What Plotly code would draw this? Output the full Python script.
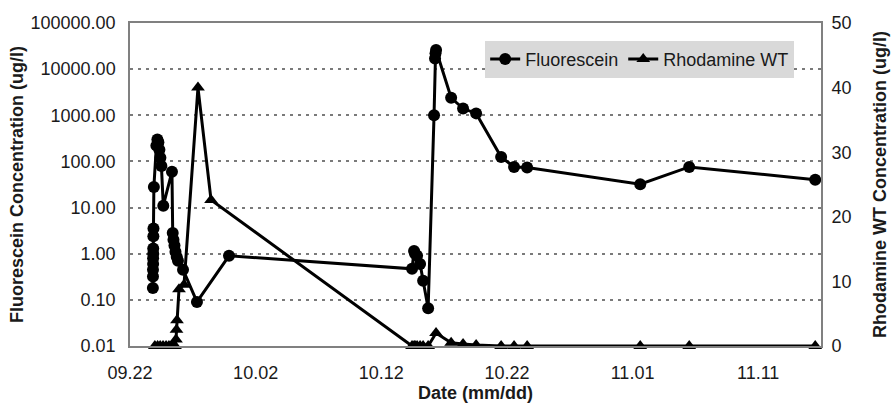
import pandas as pd
import plotly.graph_objects as go

# ---- data (days after 09.22) ----
fluorescein_days = [1.82, 1.83, 1.83, 1.84, 1.84, 1.85, 1.85, 1.86, 1.87, 1.90,
                    2.10, 2.18, 2.26, 2.34, 2.42, 2.50, 2.65,
                    3.34, 3.40, 3.46, 3.54, 3.62, 3.72, 3.82, 4.22, 5.33,
                    7.88,
                    22.45, 22.61, 22.69, 22.85, 23.09, 23.33, 23.73,
                    24.20, 24.28, 24.32, 24.36,
                    25.56, 26.51, 27.55, 29.54, 30.57, 31.61, 40.61, 44.51, 54.54]
fluorescein_vals = [0.18, 0.32, 0.45, 0.6, 0.8, 1.0, 1.3, 2.4, 3.5, 28,
                    220, 300, 260, 180, 120, 80, 11,
                    60, 2.8, 2.0, 1.5, 1.1, 0.85, 0.7, 0.45, 0.09,
                    0.9,
                    0.47, 1.15, 1.0, 0.9, 0.6, 0.26, 0.066,
                    1000, 17000, 22000, 26000,
                    2400, 1400, 1100, 125, 76, 74, 32, 76, 40]

rhodamine_days = [1.98, 2.2, 2.4, 2.63, 2.87, 3.1, 3.34, 3.58,
                  3.66, 3.70, 3.74, 3.90, 4.30, 5.41, 6.45,
                  22.45, 22.61, 22.69, 22.85, 23.09, 23.33, 23.73,
                  24.36, 25.56, 26.51, 27.55, 29.54, 30.57, 31.61, 40.61, 44.51, 54.54]
rhodamine_vals = [0, 0, 0, 0, 0, 0, 0, 0,
                  1.0, 2.5, 4.0, 8.8, 9.5, 40, 22.6,
                  0, 0, 0, 0, 0, 0, 0,
                  2.0, 0.5, 0.3, 0.15, 0, 0, 0, 0, 0, 0]

left_tickvals = [0.01, 0.1, 1, 10, 100, 1000, 10000, 100000]
left_ticktext = ["0.01", "0.10", "1.00", "10.00", "100.00", "1000.00", "10000.00", "100000.00"]

base = pd.Timestamp("2001-09-22")
fl_x = base + pd.to_timedelta(fluorescein_days, unit="D")
rh_x = base + pd.to_timedelta(rhodamine_days, unit="D")

FONT = "Arial, Liberation Sans, sans-serif"
TXT = "#1a1a1a"
FS = 18

fig = go.Figure()
fig.add_trace(go.Scatter(
    x=fl_x, y=fluorescein_vals, name="Fluorescein", mode="lines+markers",
    line=dict(color="black", width=3),
    marker=dict(symbol="circle", size=12, color="black"),
    cliponaxis=False, yaxis="y"))
fig.add_trace(go.Scatter(
    x=rh_x, y=rhodamine_vals, name="Rhodamine WT", mode="lines+markers",
    line=dict(color="black", width=3),
    marker=dict(symbol="triangle-up", size=12, color="black"),
    cliponaxis=False, yaxis="y2"))

fig.update_layout(
    width=895, height=403,
    margin=dict(l=130, r=74, t=23, b=57, autoexpand=False),
    paper_bgcolor="white", plot_bgcolor="white",
    font=dict(family=FONT, size=FS, color=TXT),
    showlegend=True,
    legend=dict(orientation="h", x=0.514, y=0.945, xanchor="left", yanchor="top",
                bgcolor="#d9d9d9", font=dict(size=FS, color=TXT),
                itemwidth=30, tracegroupgap=0, borderwidth=0),
    xaxis=dict(
        type="date", automargin=False,
        range=[base, base + pd.Timedelta(days=55)],
        tick0=base, dtick=10 * 86400000, tickformat="%m.%d",
        ticks="outside", ticklen=10, tickcolor="rgba(0,0,0,0)",
        showgrid=False, showline=True, linecolor="#808080", linewidth=1.5,
        mirror=True, zeroline=False,
        title=dict(text="<b>Date (mm/dd)</b>", standoff=8, font=dict(size=FS)),
        tickfont=dict(size=FS)),
    yaxis=dict(
        type="log", range=[-2, 5], automargin=False,
        tickvals=left_tickvals, ticktext=left_ticktext,
        ticks="outside", ticklen=9, tickcolor="rgba(0,0,0,0)",
        showgrid=True, gridcolor="#7a7a7a", griddash="3px,5px", gridwidth=2,
        showline=True, linecolor="#808080", linewidth=1.5, mirror=True,
        zeroline=False,
        title=dict(text="<b>Fluorescein Concentration (ug/l)</b>", standoff=2,
                   font=dict(size=FS)),
        tickfont=dict(size=FS)),
    yaxis2=dict(
        overlaying="y", side="right", range=[0, 50], dtick=10, automargin=False,
        ticks="outside", ticklen=6, tickcolor="rgba(0,0,0,0)",
        showgrid=False, zeroline=False, showline=False,
        title=dict(text="<b>Rhodamine WT Concentration (ug/l)</b>", standoff=22,
                   font=dict(size=FS)),
        tickfont=dict(size=FS)),
)

fig.write_html("out.html",
               config={"displayModeBar": False},
               post_script="document.body.style.margin='0';document.body.style.overflow='hidden';")
